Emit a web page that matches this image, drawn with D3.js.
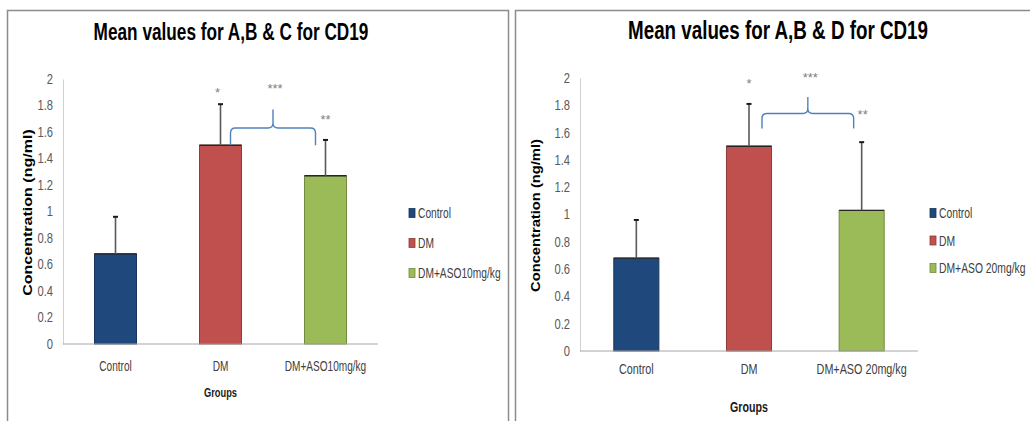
<!DOCTYPE html>
<html>
<head>
<meta charset="utf-8">
<script src="https://cdn.jsdelivr.net/npm/d3@7"></script>
<style>
  html, body { margin: 0; padding: 0; background: #fff; }
  svg { display: block; }
  text { font-family: "Liberation Sans", Arial, sans-serif; }
</style>
</head>
<body>
<svg id="chart" width="1030" height="421"></svg>
<script>
// ---- data ----
const seriesNames = ["Control", "DM", "DM+ASO10mg/kg"];
const seriesNamesD = ["Control", "DM", "DM+ASO 20mg/kg"];
const meansC = [0.68, 1.50, 1.27];
const errorsC = [0.28, 0.31, 0.27];
const meansD = [0.68, 1.50, 1.03];
const errorsD = [0.28, 0.31, 0.50];
const yTickValues = [0, 0.2, 0.4, 0.6, 0.8, 1, 1.2, 1.4, 1.6, 1.8, 2];
const sigLabels = ["*", "***", "**"];
const barColors = ["#1f497d", "#c0504d", "#9bbb59"];
const barStrokes = ["#17365d", "#8e3b39", "#728a41"];

// ---- layout for the two panels ----
const panels = [
  {
    frame: { x: 7.5, y: 10.5, w: 501, h: 440 },
    title: "Mean values for A,B & C for CD19", titleX: 231, titleY: 40, titleW: 275, titleSize: 24,
    names: seriesNames, means: meansC, errors: errorsC,
    plot: { x0: 63, x1: 378, yZero: 344, yTop: 79 },
    yTitleX: 32, yTitleW: 167, yTitleSize: 12.5,
    xLabelY: 371, xLabelSize: 14, xLabelK: 0.72,
    groupsY: 397, groupsSize: 13.5, groupsW: 33,
    legend: { x: 409, y: 213, step: 30, size: 14, k: 0.73 },
    stars: [{ i: 1, dx: -3, v: 1.92 }, { i: 1.5, dx: 2, v: 1.95 }, { i: 2, dx: 0, v: 1.71 }],
    brace: { i0: 1, dx0: 10, i1: 2, dx1: -10, vEnd: 1.50, vBar: 1.63, vTip: 1.77 }
  },
  {
    frame: { x: 515.5, y: 10.5, w: 530, h: 440 },
    title: "Mean values for A,B & D for CD19", titleX: 778, titleY: 39, titleW: 300, titleSize: 25,
    names: seriesNamesD, means: meansD, errors: errorsD,
    plot: { x0: 580, x1: 918, yZero: 351, yTop: 78 },
    yTitleX: 540, yTitleW: 153, yTitleSize: 12,
    xLabelY: 374, xLabelSize: 14, xLabelK: 0.77,
    groupsY: 412, groupsSize: 14, groupsW: 38,
    legend: { x: 930, y: 213, step: 27.5, size: 14, k: 0.74 },
    stars: [{ i: 1, dx: 0, v: 1.98 }, { i: 1.5, dx: 5, v: 2.02 }, { i: 2, dx: 1, v: 1.75 }],
    brace: { i0: 1, dx0: 13, i1: 2, dx1: -8, vEnd: 1.63, vBar: 1.74, vTip: 1.86 }
  }
];

const svg = d3.select("#chart");

// narrow the glyphs of a text horizontally about its anchor point (still real text)
function condense(sel, k) {
  sel.each(function () {
    const t = d3.select(this);
    const x = +t.attr("x") || 0, y = +t.attr("y") || 0;
    const prev = t.attr("transform") || "";
    t.attr("x", 0).attr("y", 0)
      .attr("transform", `${prev} translate(${x},${y}) scale(${k},1)`);
  });
}
// condense a text to an exact width
function fitWidth(sel, w) {
  sel.each(function () {
    const natural = this.getComputedTextLength();
    d3.select(this).call(condense, w / natural);
  });
}

function drawPanel(p) {
  const g = svg.append("g");

  // outer frame
  g.append("rect")
    .attr("x", p.frame.x).attr("y", p.frame.y)
    .attr("width", p.frame.w).attr("height", p.frame.h)
    .attr("fill", "none").attr("stroke", "#8c8c8c").attr("stroke-width", 1.5);

  // title
  g.append("text")
    .attr("x", p.titleX).attr("y", p.titleY)
    .attr("text-anchor", "middle")
    .attr("font-size", p.titleSize).attr("font-weight", "bold")
    .attr("fill", "#000")
    .text(p.title)
    .call(fitWidth, p.titleW);

  const x = d3.scaleBand().domain(p.names).range([p.plot.x0, p.plot.x1]).paddingInner(0.6).paddingOuter(0.3);
  const y = d3.scaleLinear().domain([0, 2]).range([p.plot.yZero, p.plot.yTop]);
  const step = x.step();
  const cx = i => p.plot.x0 + step * (i + 0.5);

  // y axis
  const yAxis = g.append("g")
    .attr("transform", `translate(${p.plot.x0},0)`)
    .call(d3.axisLeft(y).tickValues(yTickValues).tickSize(0).tickPadding(10).tickFormat(d => d3.format("")(+d.toFixed(1))));
  yAxis.select(".domain").attr("stroke", "#d0d0d0").attr("stroke-width", 1);
  yAxis.selectAll("text").attr("font-size", 14).attr("fill", "#595959")
    .attr("font-family", "'Liberation Sans', Arial, sans-serif")
    .call(condense, 0.8);

  // bars
  g.selectAll(".bar").data(p.means).join("rect")
    .attr("class", "bar")
    .attr("x", (d, i) => x(p.names[i]))
    .attr("y", d => y(d))
    .attr("width", x.bandwidth())
    .attr("height", d => y(0) - y(d))
    .attr("fill", (d, i) => barColors[i])
    .attr("stroke", (d, i) => barStrokes[i]).attr("stroke-width", 1);
  // dark top edge of each bar
  g.selectAll(".bartop").data(p.means).join("line")
    .attr("x1", (d, i) => x(p.names[i])).attr("x2", (d, i) => x(p.names[i]) + x.bandwidth())
    .attr("y1", d => y(d)).attr("y2", d => y(d))
    .attr("stroke", "#262626").attr("stroke-width", 1.3);

  // x axis baseline
  g.append("line")
    .attr("x1", p.plot.x0).attr("x2", p.plot.x1)
    .attr("y1", y(0)).attr("y2", y(0))
    .attr("stroke", "#a6a6a6").attr("stroke-width", 1);

  // upper error bars
  p.means.forEach((m, i) => {
    const xc = x(p.names[i]) + x.bandwidth() / 2;
    g.append("line").attr("x1", xc).attr("x2", xc)
      .attr("y1", y(m)).attr("y2", y(m + p.errors[i]))
      .attr("stroke", "#595959").attr("stroke-width", 1.6);
    g.append("line").attr("x1", xc - 2.5).attr("x2", xc + 2.5)
      .attr("y1", y(m + p.errors[i])).attr("y2", y(m + p.errors[i]))
      .attr("stroke", "#1a1a1a").attr("stroke-width", 2);
  });

  // category labels
  g.selectAll(".xlab").data(p.names).join("text")
    .attr("x", d => x(d) + x.bandwidth() / 2).attr("y", p.xLabelY)
    .attr("text-anchor", "middle").attr("font-size", p.xLabelSize).attr("fill", "#404040")
    .text(d => d)
    .call(condense, p.xLabelK);

  g.append("text")
    .attr("x", cx(1)).attr("y", p.groupsY)
    .attr("text-anchor", "middle").attr("font-size", p.groupsSize).attr("font-weight", "bold")
    .attr("fill", "#1a1a1a")
    .text("Groups")
    .call(fitWidth, p.groupsW);

  // y axis title
  g.append("text")
    .attr("transform", `translate(${p.yTitleX},${(p.plot.yZero + p.plot.yTop) / 2 + 1}) rotate(-90)`)
    .attr("text-anchor", "middle")
    .attr("font-family", "'DejaVu Sans', sans-serif")
    .attr("font-size", p.yTitleSize).attr("font-weight", "bold").attr("fill", "#000")
    .text("Concentration (ng/ml)")
    .call(fitWidth, p.yTitleW);

  // significance asterisks
  p.stars.forEach((s, k) => {
    g.append("text")
      .attr("x", cx(s.i) + s.dx).attr("y", y(s.v) + 7)
      .attr("text-anchor", "middle").attr("font-size", 13).attr("fill", "#7f7f7f")
      .text(sigLabels[k]);
  });

  // curly brace linking DM with the treated group
  const b = p.brace;
  const xa = cx(b.i0) + b.dx0, xb = cx(b.i1) + b.dx1, xm = (xa + xb) / 2;
  const yE = y(b.vEnd), yB = y(b.vBar), yT = y(b.vTip);
  const r = 5;
  const path = d3.path();
  path.moveTo(xa, yE);
  path.lineTo(xa, yB + r);
  path.quadraticCurveTo(xa, yB, xa + r, yB);
  path.lineTo(xm - r, yB);
  path.quadraticCurveTo(xm, yB, xm, yB - r);
  path.lineTo(xm, yT);
  path.moveTo(xm, yB - r);
  path.quadraticCurveTo(xm, yB, xm + r, yB);
  path.lineTo(xb - r, yB);
  path.quadraticCurveTo(xb, yB, xb, yB + r);
  path.lineTo(xb, yE);
  g.append("path").attr("d", path.toString())
    .attr("fill", "none").attr("stroke", "#4f81bd").attr("stroke-width", 1.4);

  // legend
  const lg = g.append("g");
  p.names.forEach((n, i) => {
    const ly = p.legend.y + i * p.legend.step;
    lg.append("rect").attr("x", p.legend.x).attr("y", ly - 4.5)
      .attr("width", 6).attr("height", 9)
      .attr("fill", barColors[i]).attr("stroke", barStrokes[i]).attr("stroke-width", 0.8);
    lg.append("text").attr("x", p.legend.x + 9).attr("y", ly + 5)
      .attr("font-size", p.legend.size).attr("fill", "#404040").text(n)
      .call(condense, p.legend.k);
  });
}

panels.forEach(drawPanel);
</script>
</body>
</html>
